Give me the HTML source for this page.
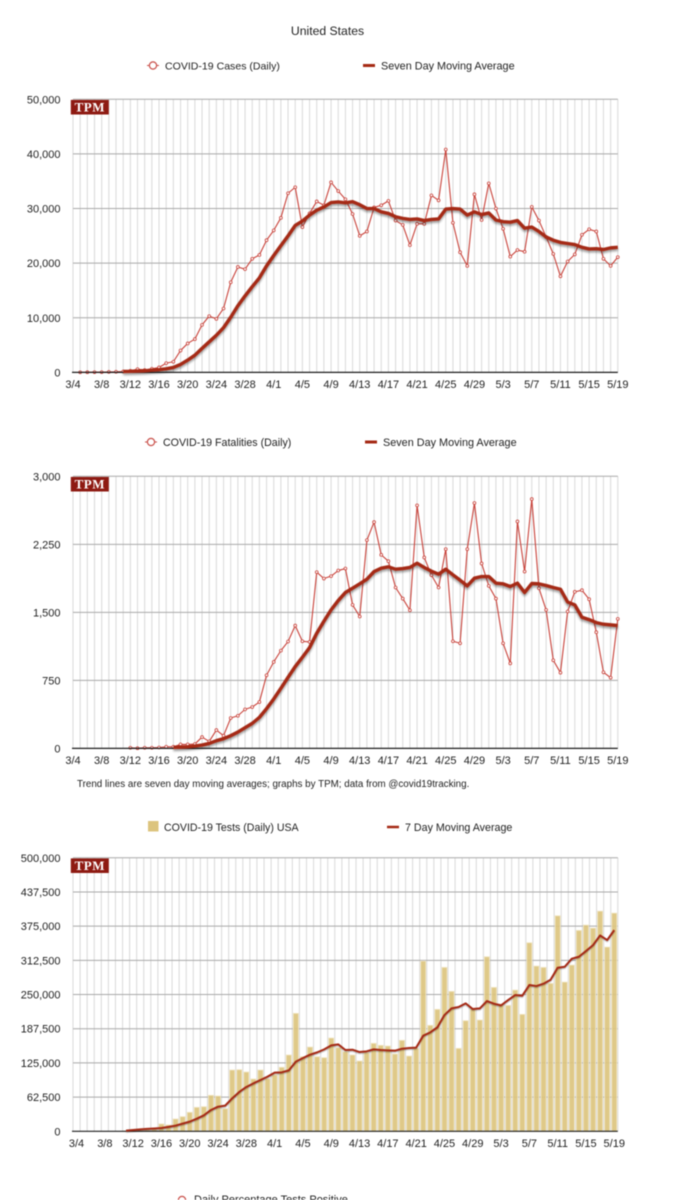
<!DOCTYPE html>
<html lang="en">
<head>
<meta charset="utf-8">
<title>United States COVID-19 charts</title>
<style>
html,body{margin:0;padding:0;background:#fff;width:695px;height:1200px;overflow:hidden}
svg{display:block;filter:blur(.4px)}
text{font-family:"Liberation Sans",sans-serif;fill:#222}
</style>
</head>
<body>
<svg id="page" width="695" height="1200" viewBox="0 0 695 1200" xmlns="http://www.w3.org/2000/svg">
  <defs>
    <filter id="shadow" x="-5%" y="-10%" width="110%" height="130%">
      <feDropShadow dx="0" dy="2" stdDeviation="1.1" flood-color="#000" flood-opacity=".38"/>
    </filter>
    <filter id="shadow-thin" x="-5%" y="-10%" width="110%" height="130%">
      <feDropShadow dx="0" dy="1" stdDeviation=".6" flood-color="#000" flood-opacity=".3"/>
    </filter>
  </defs>
  <text x="327.5" y="35" text-anchor="middle" font-size="12.2">United States</text>

  <g>
    <line x1="147" x2="159" y1="65.5" y2="65.5" stroke="#c9504a" stroke-width="1"/>
    <circle cx="153" cy="65.5" r="3.6" fill="#fff" stroke="#c9504a" stroke-width="1.2"/>
    <text x="165" y="69.5" font-size="10.55">COVID-19 Cases (Daily)</text>
    <line x1="363" x2="375" y1="65.5" y2="65.5" stroke="#a52a14" stroke-width="3"/>
    <text x="381" y="69.5" font-size="10.85">Seven Day Moving Average</text>
  </g>

  <g>
    <line x1="145" x2="157" y1="442" y2="442" stroke="#c9504a" stroke-width="1"/>
    <circle cx="151" cy="442" r="3.6" fill="#fff" stroke="#c9504a" stroke-width="1.2"/>
    <text x="163" y="446" font-size="10.65">COVID-19 Fatalities (Daily)</text>
    <line x1="365" x2="377" y1="442" y2="442" stroke="#a52a14" stroke-width="3"/>
    <text x="383" y="446" font-size="10.85">Seven Day Moving Average</text>
  </g>

  <text x="77" y="787" font-size="9.82">Trend lines are seven day moving averages; graphs by TPM; data from @covid19tracking.</text>

  <g>
    <rect x="148" y="821" width="10.5" height="10.5" fill="#dcc47e"/>
    <text x="164" y="831" font-size="10.6">COVID-19 Tests (Daily) USA</text>
    <line x1="387" x2="399" y1="827" y2="827" stroke="#a52a14" stroke-width="2.5"/>
    <text x="405" y="831" font-size="10.7">7 Day Moving Average</text>
  </g>

  <g>
    <circle cx="182" cy="1200" r="3.6" fill="#fff" stroke="#c9504a" stroke-width="1.2"/>
    <text x="194" y="1203" font-size="11">Daily Percentage Tests Positive</text>
  </g>
</svg>

<script>
const dateTicks = ['3/4','3/8','3/12','3/16','3/20','3/24','3/28','4/1','4/5','4/9','4/13','4/17','4/21','4/25','4/29','5/3','5/7','5/11','5/15','5/19'];

const casesTicks = [0,10000,20000,30000,40000,50000];
const casesDaily = [
  null,20,30,40,50,80,100,150,300,600,
  430,670,900,1700,1950,4000,5300,6100,8700,10300,
  9800,11700,16500,19300,18900,20800,21500,24200,26000,28300,
  32800,33900,26600,29100,31300,30600,34800,33200,31700,29000,
  25000,25800,30200,30600,31400,27800,27000,23300,27200,27200,
  32400,31500,40800,27400,22000,19500,32600,27900,34600,30000,
  26300,21200,22400,22100,30300,27800,24800,21700,17600,20300,
  21600,25200,26200,25800,20800,19500,21100
];
const casesAverage = [
  null,null,null,null,null,null,null,180,200,250,
  300,400,490,650,900,1450,2250,3150,4400,5600,
  6800,8200,10100,12200,14000,15700,17300,19500,21400,23200,
  25000,26900,27700,28800,29700,30300,31100,31200,31050,31250,
  30700,30000,30000,29400,29100,28500,28200,28000,28100,27800,
  28000,28100,29900,30000,29900,28800,29400,28900,29200,27900,
  27600,27500,27800,26400,26600,25800,24800,24200,23800,23600,
  23400,22900,22600,22650,22500,22800,22900
];

const deathsTicks = [0,750,1500,2250,3000];
const deathsDaily = [
  null,null,null,null,null,null,null,null,7,2,
  7,7,10,18,18,44,44,48,125,77,
  202,140,335,360,430,456,511,806,953,1078,
  1178,1354,1181,1174,1943,1873,1899,1961,1983,1582,
  1454,2296,2495,2134,2064,1774,1652,1523,2679,2105,
  1910,1774,2197,1181,1159,2197,2705,2039,1792,1652,
  1159,938,2502,1950,2749,1766,1527,972,835,1509,
  1726,1744,1645,1281,839,780,1428
];
const deathsAverage = [
  null,null,null,null,null,null,null,null,null,null,
  null,null,null,null,11,14,18,26,37,55,
  85,107,140,180,228,276,342,438,545,662,
  784,902,1005,1111,1270,1402,1527,1630,1719,1766,
  1815,1866,1950,1987,2002,1976,1983,1995,2042,1995,
  1954,1921,1976,1914,1855,1792,1877,1895,1895,1822,
  1814,1785,1822,1719,1818,1814,1796,1774,1755,1615,
  1582,1446,1420,1387,1369,1362,1354
];

const testsTicks = [0,62500,125000,187500,250000,312500,375000,437500,500000];
const testsDaily = [
  0,0,0,0,0,0,0,600,1000,1700,
  2400,3600,13400,11600,22500,26800,34700,43800,45000,65800,
  64500,41400,112000,112600,108400,95600,112000,96200,103000,117000,
  139500,215600,136400,154000,136400,134600,170500,152900,145500,139500,
  128500,143700,160800,157100,155900,141300,166300,137600,151600,311200,
  193700,222900,299600,255800,151600,202200,222900,203400,319100,263100,
  232600,230200,258200,213800,344700,302100,299600,270400,394000,272800,
  303900,367200,377000,371500,402500,336800,398900
];
const testsAverage = [
  null,null,null,null,null,null,null,1200,2400,3600,
  4400,5200,6000,8000,10400,14000,17700,23100,29200,39000,
  45000,46900,60300,71900,81000,87700,93800,99900,107200,107800,
  111400,127300,134000,140100,144300,149800,157100,158900,148600,149200,
  144900,146200,149800,148600,148000,147400,151000,152300,152900,174800,
  180900,190000,212500,224700,227200,233900,223500,224700,238100,233200,
  230200,239900,249100,247900,267400,265500,269800,277100,299000,300800,
  315500,319100,329500,340400,358100,349600,367800
];

const SVGNS = 'http://www.w3.org/2000/svg';
const page = document.getElementById('page');

function make(parent, tag, attrs, text) {
  const el = document.createElementNS(SVGNS, tag);
  for (const k in attrs) el.setAttribute(k, attrs[k]);
  if (text !== undefined) el.textContent = text;
  parent.appendChild(el);
  return el;
}

function pathFrom(values, xScale, yScale) {
  let d = '';
  values.forEach(function (v, i) {
    if (v === null) return;
    d += (d ? 'L' : 'M') + xScale(i).toFixed(2) + ' ' + yScale(v).toFixed(2);
  });
  return d;
}

function drawChart(opts) {
  const n = opts.daily.length;
  const left = 73, right = 617.8;
  const top = opts.top, bottom = opts.bottom;
  const tickMax = opts.ticks[opts.ticks.length - 1];
  const yScale = function (v) { return bottom - (v / tickMax) * (bottom - top); };
  const step = opts.bars ? (right - left) / n : (right - left) / (n - 1);
  const xScale = function (i) { return opts.bars ? left + step * (i + 0.5) : left + step * i; };

  const chart = make(page, 'g', {});
  
  

  const vcount = opts.bars ? n + 1 : n;
  for (let i = 0; i < vcount; i++) {
    const gx = left + step * i;
    const vline = make(chart, 'line', {x1: gx, x2: gx, y1: top, y2: bottom, stroke: '#dcdcdc', 'stroke-width': 1.1});
    
    
  }

  opts.ticks.forEach(function (t) {
    const gy = yScale(t);
    if (t !== 0) {
      const hline = make(chart, 'line', {x1: left, x2: right, y1: gy, y2: gy, stroke: '#a9a9a9', 'stroke-width': 1});
      
      
    }
    const label = make(chart, 'text', {x: 60.5, y: gy + 4, 'text-anchor': 'end', 'font-size': 11}, t.toLocaleString('en-US'));
    
    
  });

  if (opts.bars) {
    opts.daily.forEach(function (v, i) {
      const bar = make(chart, 'rect', {x: xScale(i) - 2.6, width: 5.2, y: yScale(v), height: bottom - yScale(v), fill: '#dcc47e', 'fill-opacity': 0.92, stroke: '#f1e6c4', 'stroke-width': 0.8});
      
      
    });
  } else {
    const dailyLine = make(chart, 'path', {d: pathFrom(opts.daily, xScale, yScale), fill: 'none', stroke: '#c8423a', 'stroke-width': 1.1, 'stroke-linejoin': 'round'});
    
    
    opts.daily.forEach(function (v, i) {
      if (v === null) return;
      const pt = make(chart, 'circle', {cx: xScale(i), cy: yScale(v), r: 1.4, fill: '#fff', stroke: '#c8423a', 'stroke-width': 0.8});
      
      
    });
  }

  const axis = make(chart, 'line', {x1: left - 1, x2: right, y1: bottom, y2: bottom, stroke: '#1c1c1c', 'stroke-width': 1.2});
  
  

  const avgLine = make(chart, 'path', {d: pathFrom(opts.average, xScale, yScale), fill: 'none', stroke: '#a52a14', 'stroke-width': opts.bars ? 2 : 3.4, 'stroke-linejoin': 'round', filter: opts.bars ? 'url(#shadow-thin)' : 'url(#shadow)'});
  
  

  dateTicks.forEach(function (lab, k) {
    const tick = make(chart, 'text', {x: xScale(k * 4), y: bottom + 15.5, 'text-anchor': 'middle', 'font-size': 11}, lab);
    
    
  });

  const badge = make(chart, 'g', {});
  
  
  make(badge, 'rect', {x: 70.8, y: top + 0.6, width: 38, height: 14.6, fill: '#8e1a12'});
  const badgeText = make(badge, 'text', {x: 89.8, y: top + 12.2, 'text-anchor': 'middle', 'font-size': 13, 'font-weight': 'bold', style: 'font-family:"Liberation Serif",serif;fill:#fff;letter-spacing:.5px'}, 'TPM');
  
  
}

drawChart({name: 'cases', top: 99.3, bottom: 372.4, ticks: casesTicks, daily: casesDaily, average: casesAverage, bars: false});
drawChart({name: 'fatalities', top: 476.3, bottom: 748.4, ticks: deathsTicks, daily: deathsDaily, average: deathsAverage, bars: false});
drawChart({name: 'tests', top: 857.8, bottom: 1131.3, ticks: testsTicks, daily: testsDaily, average: testsAverage, bars: true});
</script>
</body>
</html>
